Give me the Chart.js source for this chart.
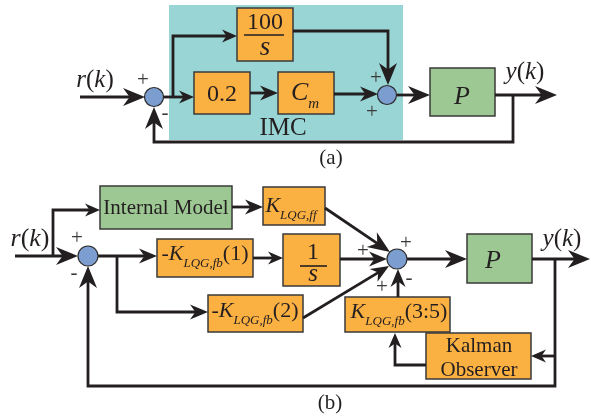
<!DOCTYPE html>
<html>
<head>
<meta charset="utf-8">
<script src="https://cdn.jsdelivr.net/npm/chart.js@4.4.0/dist/chart.umd.min.js"></script>
<style>
  html, body { margin: 0; padding: 0; background: #fff; }
  #wrap { width: 591px; height: 419px; }
</style>
</head>
<body>
<div id="wrap"><canvas id="diagram"></canvas></div>
<script>
// summing junctions (centres, in picture units)
const junctionX = [154, 387, 88, 397];
const junctionY = [97, 95, 256, 259];

// blocks
const blockNames = ['IMC', '100/s', '0.2', 'Cm', 'P a', 'Internal Model', 'K ff', '-K fb(1)', '1/s', '-K fb(2)', 'K fb(3:5)', 'Kalman Observer', 'P b'];
const blockLeft = [169, 237, 194, 278, 430, 100, 263, 157, 283, 208, 345, 426, 467];
const blockTop = [5, 8, 72, 72, 68, 186, 187, 239, 234, 295, 297, 333, 234];
const blockRight = [403, 293, 250, 334, 495, 232, 325, 253, 340, 303, 450, 531, 532];
const blockBottom = [140, 61, 114, 114, 116, 229, 225, 277, 286, 332, 332, 379, 283];
const blockKind = ['imc', 'gain', 'gain', 'gain', 'plant', 'plant', 'gain', 'gain', 'gain', 'gain', 'gain', 'gain', 'plant'];

// signal wires, each a list of [x, y] ending at the arrow tip
const wires = [
    [[80, 97], [145, 97]],
    [[163, 97], [194, 97]],
    [[173, 97], [173, 36], [237, 36]],
    [[250, 93], [278, 93]],
    [[293, 31], [388, 31], [388, 85]],
    [[334, 94], [378, 94]],
    [[397, 95], [430, 95]],
    [[495, 95], [557, 95]],
    [[513, 95], [513, 142], [154, 142], [154, 107]],
    [[15, 256], [78, 256]],
    [[53, 256], [53, 210], [100, 210]],
    [[232, 207], [263, 207]],
    [[325, 208], [390, 252]],
    [[98, 256], [157, 256]],
    [[117, 256], [117, 312], [208, 312]],
    [[253, 258], [283, 258]],
    [[340, 259], [387, 259]],
    [[303, 318], [389, 266]],
    [[398, 297], [398, 269]],
    [[426, 365], [395, 365], [395, 333]],
    [[407, 259], [467, 259]],
    [[532, 259], [590, 259]],
    [[555, 259], [555, 386], [88, 386], [88, 266]],
    [[555, 356], [531, 356]]
];
const wireHeads = ['L', 'S', 'S', 'M', 'L', 'M', 'L', 'L', 'L', 'L', 'S', 'M', 'L', 'M', 'M', 'S', 'M', 'M', 'M', 'S', 'L', 'L', 'L', 'S'];

// fraction bars
const fractionBars = [[244, 284, 35], [300, 327, 266]];

// text: *..* italic, [..] subscript
const labelText = [
    '*r*(*k*)', '+', '-', '+', '+', '100', '*s*', '0.2', '*C[m]*', '*P*', '*y*(*k*)', 'IMC', '(a)',
    '*r*(*k*)', '+', '-', 'Internal Model', '*K[LQG,ff]*', '-*K[LQG,fb]*(1)', '1', '*s*',
    '-*K[LQG,fb]*(2)', '*K[LQG,fb]*(3:5)', 'Kalman', 'Observer', '*P*', '*y*(*k*)',
    '+', '+', '+', '-', '(b)'
];
const labelX = [95, 143, 165, 376, 372, 265, 265, 222, 305, 462, 525, 283, 331,
    30, 77, 74, 166, 291, 205, 313, 313, 255, 399, 479, 479, 493, 562,
    406, 363, 382, 409, 330];
const labelY = [87, 86, 119, 84, 118, 29, 55, 101, 100, 104, 79, 135, 164,
    246, 244, 279, 214, 212, 260, 259, 281, 317, 318, 352, 376, 268, 246,
    249, 257, 293, 284, 409];
const labelSize = [25, 21, 21, 21, 21, 24, 27, 24, 26, 26, 25, 25, 21,
    26, 21, 21, 21, 22, 22, 24, 25, 22, 22, 21, 21, 26, 25,
    21, 21, 21, 21, 21];

const headSize = { L: [22, 9], M: [18, 7.5], S: [15, 6.5] };
const INK = '#231f20';
const FONT = "'Liberation Serif', 'DejaVu Serif', serif";

function richText(ctx, str, cx, y, size) {
    const parts = [];
    let italic = false, sub = false, buf = '';
    const flush = () => { if (buf) parts.push({ t: buf, i: italic, s: sub }); buf = ''; };
    for (const ch of str) {
        if (ch === '*') { flush(); italic = !italic; }
        else if (ch === '[') { flush(); sub = true; }
        else if (ch === ']') { flush(); sub = false; }
        else buf += ch;
    }
    flush();
    const fontOf = p => (p.i ? 'italic ' : '') + Math.round(p.s ? size * 0.58 : size) + 'px ' + FONT;
    let total = 0;
    parts.forEach(p => { ctx.font = fontOf(p); p.w = ctx.measureText(p.t).width; total += p.w; });
    let x = cx - total / 2;
    ctx.textAlign = 'left';
    ctx.textBaseline = 'alphabetic';
    parts.forEach(p => {
        ctx.font = fontOf(p);
        ctx.fillText(p.t, x, y + (p.s ? size * 0.3 : 0));
        x += p.w;
    });
}

const diagramPlugin = {
    id: 'diagram',
    beforeDatasetsDraw(chart) {
        const ctx = chart.ctx, xs = chart.scales.x, ys = chart.scales.y;
        ctx.save();
        blockNames.forEach((name, i) => {
            const x0 = xs.getPixelForValue(blockLeft[i]), x1 = xs.getPixelForValue(blockRight[i]);
            const y0 = ys.getPixelForValue(blockTop[i]), y1 = ys.getPixelForValue(blockBottom[i]);
            if (blockKind[i] === 'imc') {
                ctx.fillStyle = '#99d5d4';
                ctx.fillRect(x0, y0, x1 - x0, y1 - y0);
                return;
            }
            ctx.fillStyle = blockKind[i] === 'plant' ? '#9dc893' : '#fbb042';
            ctx.fillRect(x0, y0, x1 - x0, y1 - y0);
            ctx.strokeStyle = '#3a3a3a';
            ctx.lineWidth = 1.5;
            ctx.strokeRect(x0, y0, x1 - x0, y1 - y0);
        });
        ctx.restore();
    },
    afterDatasetsDraw(chart) {
        const ctx = chart.ctx, xs = chart.scales.x, ys = chart.scales.y;
        ctx.save();
        ctx.fillStyle = INK;
        wires.forEach((w, i) => {
            const a = w[w.length - 2], b = w[w.length - 1];
            const ax = xs.getPixelForValue(a[0]), ay = ys.getPixelForValue(a[1]);
            const bx = xs.getPixelForValue(b[0]), by = ys.getPixelForValue(b[1]);
            const ang = Math.atan2(by - ay, bx - ax);
            const [len, hw] = headSize[wireHeads[i]];
            const ux = Math.cos(ang), uy = Math.sin(ang);
            ctx.beginPath();
            ctx.moveTo(bx, by);
            ctx.lineTo(bx - len * ux - hw * uy, by - len * uy + hw * ux);
            ctx.lineTo(bx - 0.7 * len * ux, by - 0.7 * len * uy);
            ctx.lineTo(bx - len * ux + hw * uy, by - len * uy - hw * ux);
            ctx.closePath();
            ctx.fill();
        });
        ctx.strokeStyle = INK;
        ctx.lineWidth = 1.6;
        fractionBars.forEach(f => {
            ctx.beginPath();
            ctx.moveTo(xs.getPixelForValue(f[0]), ys.getPixelForValue(f[2]));
            ctx.lineTo(xs.getPixelForValue(f[1]), ys.getPixelForValue(f[2]));
            ctx.stroke();
        });
        labelText.forEach((t, i) => {
            ctx.fillStyle = (t === '+' || t === '-') ? '#3a3a3a' : INK;
            richText(ctx, t, xs.getPixelForValue(labelX[i]), ys.getPixelForValue(labelY[i]), labelSize[i]);
        });
        ctx.restore();
    }
};

const datasets = [{
    label: 'junctions',
    data: junctionX.map((x, i) => ({ x: x, y: junctionY[i] })),
    showLine: false,
    pointRadius: [9.5, 9.5, 10, 10],
    pointBackgroundColor: '#7c9dd0',
    pointBorderColor: '#2b2b2b',
    pointBorderWidth: 1.2
}];

wires.forEach((w, i) => {
    const pts = w.map(p => ({ x: p[0], y: p[1] }));
    // stop the line inside the arrow head
    const a = w[w.length - 2], b = w[w.length - 1];
    const d = Math.hypot(b[0] - a[0], b[1] - a[1]);
    const back = headSize[wireHeads[i]][0] * 0.6;
    pts[pts.length - 1] = { x: b[0] - (b[0] - a[0]) / d * back, y: b[1] - (b[1] - a[1]) / d * back };
    datasets.push({
        label: 'wire' + i,
        data: pts,
        showLine: true,
        pointRadius: 0,
        borderColor: INK,
        borderWidth: 2.8,
        borderCapStyle: 'butt',
        borderJoinStyle: 'miter',
        fill: false,
        tension: 0
    });
});

new Chart(document.getElementById('diagram'), {
    type: 'scatter',
    data: { datasets: datasets },
    options: {
        responsive: true,
        maintainAspectRatio: false,
        animation: false,
        devicePixelRatio: 1,
        events: [],
        layout: { padding: 0, autoPadding: false },
        plugins: { legend: { display: false }, tooltip: { enabled: false } },
        scales: {
            x: { type: 'linear', min: 0, max: 591, display: false },
            y: { type: 'linear', min: 0, max: 419, reverse: true, display: false }
        }
    },
    plugins: [diagramPlugin]
});
</script>
</body>
</html>
